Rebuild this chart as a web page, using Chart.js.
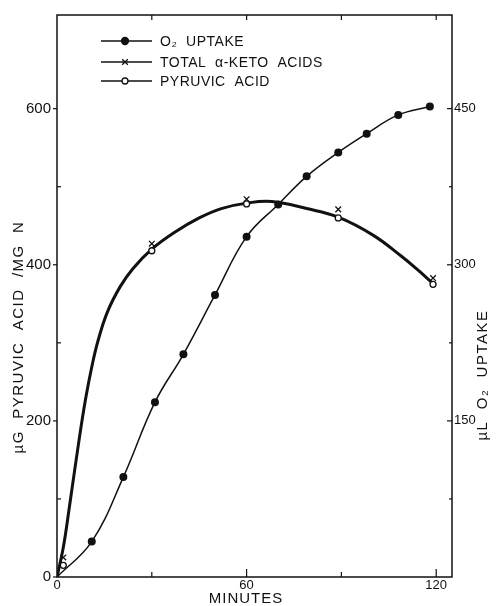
<!DOCTYPE html>
<html>
<head>
<meta charset="utf-8">
<script src="https://cdn.jsdelivr.net/npm/chart.js@4.4.1/dist/chart.umd.min.js"></script>
<style>
  html, body { margin: 0; padding: 0; background: #fff; }
  canvas { display: block; }
</style>
</head>
<body>
<canvas id="myChart" width="497" height="606"></canvas>
<script>
// values (minutes on x)
let o2Minutes = [0, 11, 21, 31, 40, 50, 60, 70, 79, 89, 98, 108, 118]
let o2Uptake = [0, 34, 96, 168, 214, 271, 327, 358, 385, 408, 426, 444, 452]

let acidMinutes = [2, 30, 60, 89, 119]
let pyruvicAcid = [15, 418, 478, 460, 375]
let totalKetoAcids = [25, 427, 484, 471, 383]

// the hand drawn curve through the acid points
let curveMinutes = [0, 2, 4, 7, 9, 11, 13, 16, 20, 24, 30, 37, 45, 52, 60, 68, 79, 89, 100, 109, 114, 119]
let curveValues = [0, 38, 92, 176, 227, 269, 303, 340, 372, 395, 420, 441, 460, 472, 479, 481, 472, 461, 438, 411, 394, 376]

// tick labels
let xTicks = [0, 60, 120]
let xMinorTicks = [30, 90]
let leftTicks = [0, 200, 400, 600]
let leftMinorTicks = [100, 300, 500]
let rightTicks = [150, 300, 450]
let rightMinorTicks = [75, 225, 375]

let legendLabels = ['O\u2082  UPTAKE', 'TOTAL  \u03b1-KETO  ACIDS', 'PYRUVIC  ACID']

const INK = '#111'
const FONT = '"Liberation Sans", Arial, sans-serif'

function toPoints(xs, ys) {
    return xs.map((x, i) => ({x: x, y: ys[i]}))
}

function tickMarks(ctx, scale, values, fromPos, len, vertical) {
    values.forEach(v => {
        let p = scale.getPixelForValue(v)
        ctx.beginPath()
        if (vertical) {
            ctx.moveTo(p, fromPos)
            ctx.lineTo(p, fromPos + len)
        } else {
            ctx.moveTo(fromPos, p)
            ctx.lineTo(fromPos + len, p)
        }
        ctx.stroke()
    })
}

const framePlugin = {
    id: 'frame',
    afterDraw(chart) {
        let ctx = chart.ctx
        let area = chart.chartArea
        let sx = chart.scales.x
        let sy = chart.scales.y
        let sy2 = chart.scales.y2

        ctx.save()
        ctx.strokeStyle = INK
        ctx.lineWidth = 1.5
        ctx.strokeRect(area.left, area.top, area.right - area.left, area.bottom - area.top)

        ctx.lineWidth = 1.2
        // bottom ticks point up into the plot, top ticks point down
        tickMarks(ctx, sx, xTicks.slice(1), area.bottom, -8, true)
        tickMarks(ctx, sx, xMinorTicks, area.bottom, -5, true)
        tickMarks(ctx, sx, xMinorTicks.concat(xTicks.slice(1)), area.top, 5, true)
        tickMarks(ctx, sy, leftTicks, area.left, -4, false)
        tickMarks(ctx, sy, leftMinorTicks, area.left, 4, false)
        tickMarks(ctx, sy2, rightTicks, area.right, -5, false)
        tickMarks(ctx, sy2, rightMinorTicks, area.right, -3, false)

        // axis titles
        ctx.fillStyle = INK
        ctx.textAlign = 'center'
        ctx.textBaseline = 'middle'
        ctx.font = '15px ' + FONT
        ctx.letterSpacing = '1px'
        ctx.fillText('MINUTES', 246, 599)

        ctx.save()
        ctx.translate(19, 337)
        ctx.rotate(-Math.PI / 2)
        ctx.letterSpacing = '1.5px'
        ctx.fillText('\u00b5G  PYRUVIC  ACID  /MG  N', 0, 0)
        ctx.restore()

        ctx.save()
        ctx.translate(483, 375)
        ctx.rotate(-Math.PI / 2)
        ctx.letterSpacing = '1.5px'
        ctx.fillText('\u00b5L  O\u2082  UPTAKE', 0, 0)
        ctx.restore()

        // legend inside the plot, top left
        let rows = [41, 62, 81]
        let styles = [
            {pointStyle: 'circle', radius: 3.5, fill: INK},
            {pointStyle: 'crossRot', radius: 4, fill: INK},
            {pointStyle: 'circle', radius: 3, fill: '#fff'}
        ]
        ctx.textAlign = 'left'
        ctx.letterSpacing = '0.5px'
        ctx.font = '14px ' + FONT
        rows.forEach((y, i) => {
            ctx.lineWidth = 1.5
            ctx.beginPath()
            ctx.moveTo(101, y)
            ctx.lineTo(152, y)
            ctx.stroke()
            ctx.fillStyle = styles[i].fill
            ctx.lineWidth = 1.3
            Chart.helpers.drawPoint(ctx, {
                pointStyle: styles[i].pointStyle,
                radius: styles[i].radius,
                rotation: 0,
                borderWidth: 1.3
            }, 125, y)
            ctx.fillStyle = INK
            ctx.fillText(legendLabels[i], 160, y + 1)
        })
        ctx.restore()
    }
}

function chartInit() {
    let element = document.getElementById('myChart')
    new Chart(element.getContext('2d'), {
        type: 'scatter',
        data: {
            datasets: [{
                label: 'Total keto acids',
                data: toPoints(acidMinutes, totalKetoAcids),
                yAxisID: 'y',
                pointStyle: 'crossRot',
                pointRadius: 4,
                borderColor: INK,
                pointBorderWidth: 1.3,
                showLine: false,
                order: 0
            }, {
                label: 'Pyruvic acid',
                data: toPoints(acidMinutes, pyruvicAcid),
                yAxisID: 'y',
                pointStyle: 'circle',
                pointRadius: 3,
                pointBackgroundColor: '#fff',
                borderColor: INK,
                pointBorderWidth: 1.3,
                showLine: false,
                order: 0
            }, {
                label: 'O2 uptake',
                data: toPoints(o2Minutes, o2Uptake),
                yAxisID: 'y2',
                showLine: true,
                borderColor: INK,
                borderWidth: 1.5,
                pointRadius: ctx => ctx.dataIndex === 0 ? 0 : 4,
                pointBackgroundColor: INK,
                pointBorderWidth: 0,
                tension: 0.4,
                order: 1
            }, {
                label: 'curve',
                data: toPoints(curveMinutes, curveValues),
                yAxisID: 'y',
                showLine: true,
                borderColor: INK,
                borderWidth: 3,
                pointRadius: 0,
                tension: 0.4,
                order: 2
            }]
        },
        options: {
            responsive: false,
            animation: false,
            devicePixelRatio: 1,
            layout: {padding: {top: 14, left: 0, right: 0, bottom: 0}},
            plugins: {
                legend: {display: false},
                tooltip: {enabled: false}
            },
            scales: {
                x: {
                    type: 'linear',
                    position: 'bottom',
                    min: 0,
                    max: 125,
                    grid: {display: false, drawTicks: false},
                    border: {display: false},
                    ticks: {color: INK, font: {family: FONT, size: 13}, padding: 1, maxRotation: 0},
                    afterBuildTicks: scale => { scale.ticks = xTicks.map(v => ({value: v})) },
                    afterFit: scale => { scale.height = 29 }
                },
                y: {
                    position: 'left',
                    min: 0,
                    max: 720,
                    grid: {display: false, drawTicks: false},
                    border: {display: false},
                    ticks: {color: INK, font: {family: FONT, size: 15}, padding: 6},
                    afterBuildTicks: scale => { scale.ticks = leftTicks.map(v => ({value: v})) },
                    afterFit: scale => { scale.width = 57 }
                },
                y2: {
                    position: 'right',
                    min: 0,
                    max: 540,
                    grid: {display: false, drawTicks: false},
                    border: {display: false},
                    ticks: {color: INK, font: {family: FONT, size: 13}, padding: 2},
                    afterBuildTicks: scale => { scale.ticks = rightTicks.map(v => ({value: v})) },
                    afterFit: scale => { scale.width = 45 }
                }
            }
        },
        plugins: [framePlugin]
    })
}

chartInit()
</script>
</body>
</html>
